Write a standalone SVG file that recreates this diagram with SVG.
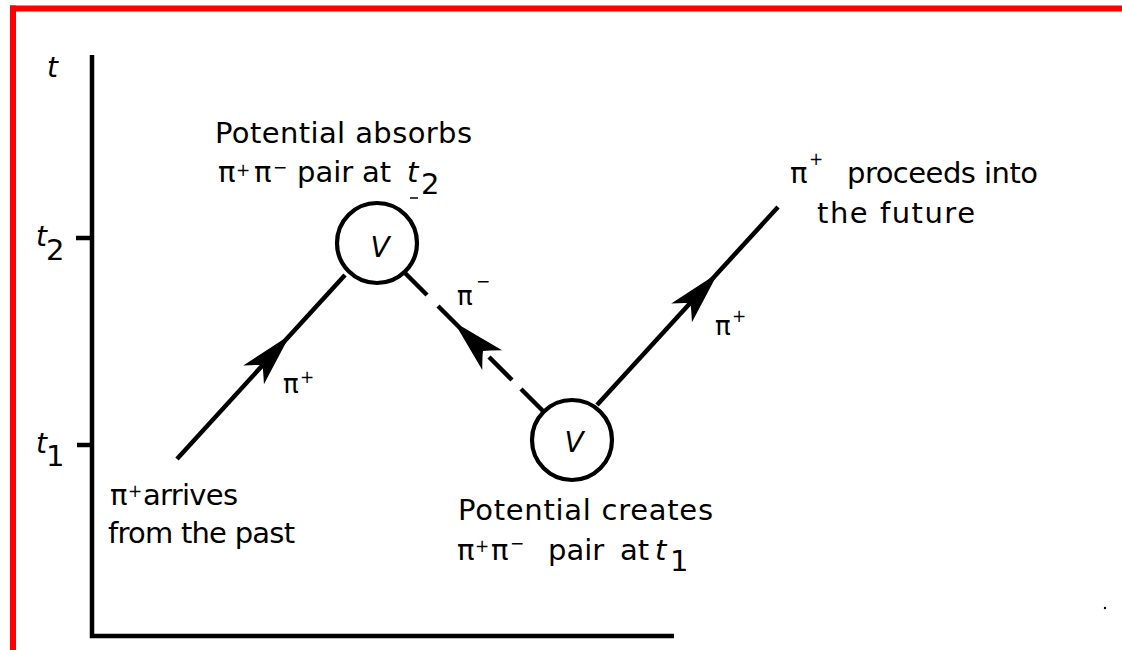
<svg xmlns="http://www.w3.org/2000/svg" width="1122" height="650" viewBox="0 0 1122 650">
<style>
.ln{stroke:#000;stroke-width:4.5;fill:none;stroke-linecap:butt}
.ax{stroke:#000;stroke-width:4.5;fill:none}
.cir{stroke:#000;stroke-width:4.2;fill:#fff}
.tx{font-family:"DejaVu Sans","Liberation Sans",sans-serif;font-size:29px;fill:#000}
.it{font-family:"DejaVu Sans","Liberation Sans",sans-serif;font-style:italic;fill:#000}
.sup{font-family:"DejaVu Sans","Liberation Sans",sans-serif;font-size:17px;fill:#000}
.sm{font-family:"DejaVu Sans","Liberation Sans",sans-serif;font-size:26px;fill:#000}
</style>
<defs>
<path id="ah" d="M0,0 L-54,-14 Q-44,-4 -41,0 Q-44,4 -54,14 Z" fill="#000"/>
</defs>
<rect x="0" y="0" width="1122" height="650" fill="#fff"/>
<g id="frame">
<rect x="10" y="5.5" width="1112" height="6" fill="#f00"/>
<rect x="10" y="5.5" width="6" height="644.5" fill="#f00"/>
</g>
<g id="axes">
<path class="ax" d="M92,55 L92,636 L674,636"/>
<line class="ax" x1="76" y1="238" x2="92" y2="238"/>
<line class="ax" x1="77" y1="445" x2="92" y2="445"/>
<text class="it" x="47" y="77" font-size="28">t</text>
<text class="it" x="36" y="246" font-size="28">t</text>
<text class="tx" x="46" y="260" font-size="21">2</text>
<text class="it" x="36" y="453" font-size="28">t</text>
<text class="tx" x="46" y="466" font-size="20">1</text>
</g>
<g id="connectors">
<line class="ln" x1="177" y1="459" x2="345" y2="275"/>
<use href="#ah" transform="translate(290,335) rotate(-47.6)"/>
<line class="ln" x1="597" y1="405" x2="778" y2="207"/>
<use href="#ah" transform="translate(718,273) rotate(-47.6)"/>
<line class="ln" x1="405" y1="273" x2="427" y2="295"/>
<line class="ln" x1="438" y1="306" x2="460" y2="328"/>
<use href="#ah" transform="translate(454,322) rotate(-135)"/>
<line class="ln" x1="489" y1="357" x2="512" y2="380"/>
<line class="ln" x1="521" y1="389" x2="543" y2="411"/>
<text class="sm" x="457" y="305">π</text>
<text class="sup" x="476" y="287">−</text>
<text class="sm" x="283" y="393">π</text>
<text class="sup" x="300" y="383">+</text>
<text class="sm" x="715" y="335">π</text>
<text class="sup" x="732" y="322">+</text>
</g>
<g id="node-absorb">
<circle class="cir" cx="377" cy="243" r="40"/>
<text class="it" x="380" y="257" font-size="28" text-anchor="middle">V</text>
<text class="tx" x="215" y="143" textLength="257" lengthAdjust="spacing">Potential absorbs</text>
<text class="tx" x="218" y="182">π</text>
<text class="sup" x="236" y="176">+</text>
<text class="tx" x="254" y="182">π</text>
<text class="sup" x="273" y="173">−</text>
<text class="tx" x="297" y="182">pair</text>
<text class="tx" x="362" y="182">at</text>
<text class="it" x="407" y="182" font-size="29">t</text>
<text class="tx" x="421" y="194" font-size="20">2</text>
<line x1="410" y1="198" x2="418" y2="198" stroke="#000" stroke-width="1.5"/>
</g>
<g id="node-create">
<circle class="cir" cx="572" cy="440" r="40"/>
<text class="it" x="574" y="452" font-size="28" text-anchor="middle">V</text>
<text class="tx" x="458" y="520" textLength="255" lengthAdjust="spacing">Potential  creates</text>
<text class="tx" x="457" y="560">π</text>
<text class="sup" x="475" y="552">+</text>
<text class="tx" x="491" y="560">π</text>
<text class="sup" x="510" y="549">−</text>
<text class="tx" x="548" y="560">pair</text>
<text class="tx" x="620" y="560">at</text>
<text class="it" x="655" y="560" font-size="29">t</text>
<text class="tx" x="670" y="571" font-size="20">1</text>
</g>
<g id="label-past">
<text class="tx" x="110" y="505">π</text>
<text class="sup" x="128" y="497">+</text>
<text class="tx" x="143" y="505" textLength="95" lengthAdjust="spacing">arrives</text>
<text class="tx" x="108" y="543" textLength="187" lengthAdjust="spacing">from  the  past</text>
</g>
<g id="label-future">
<text class="tx" x="790" y="183">π</text>
<text class="sup" x="809" y="165">+</text>
<text class="tx" x="847" y="183" textLength="191" lengthAdjust="spacing">proceeds into</text>
<text class="tx" x="817" y="223" textLength="158" lengthAdjust="spacing">the  future</text>
</g>
<circle cx="1105" cy="608" r="1.2" fill="#000"/>
</svg>
